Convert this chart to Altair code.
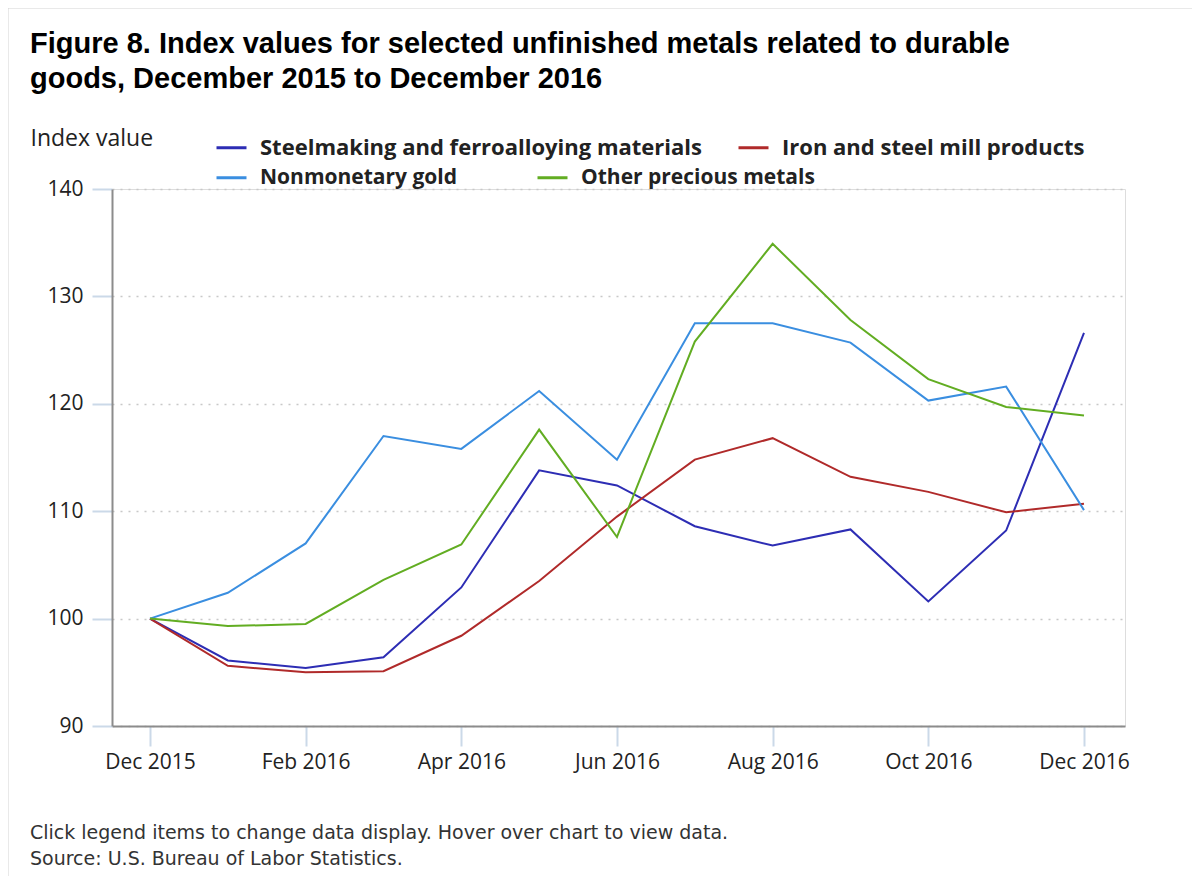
import altair as alt
import pandas as pd

months = ["Dec 2015", "Jan 2016", "Feb 2016", "Mar 2016", "Apr 2016", "May 2016",
          "Jun 2016", "Jul 2016", "Aug 2016", "Sep 2016", "Oct 2016", "Nov 2016", "Dec 2016"]
series_names = ["Steelmaking and ferroalloying materials", "Iron and steel mill products",
                "Nonmonetary gold", "Other precious metals"]
series_colors = ["#2d2db4", "#b02a2a", "#3a8ee0", "#62ad22"]
steelmaking = [100, 96.1, 95.4, 96.4, 102.9, 113.8, 112.4, 108.6, 106.8, 108.3, 101.6, 108.2, 126.6]
iron_steel = [100, 95.6, 95.0, 95.1, 98.4, 103.5, 109.5, 114.8, 116.8, 113.2, 111.8, 109.9, 110.7]
gold = [100, 102.4, 107.0, 117.0, 115.8, 121.2, 114.8, 127.5, 127.5, 125.7, 120.3, 121.6, 110.1]
other_precious = [100, 99.3, 99.5, 103.6, 106.9, 117.6, 107.6, 125.8, 134.9, 127.8, 122.3, 119.7, 118.9]
y_ticks = [90, 100, 110, 120, 130, 140]
x_tick_idx = [0, 2, 4, 6, 8, 10, 12]
title_lines = ["Figure 8. Index values for selected unfinished metals related to durable",
               "goods, December 2015 to December 2016"]
footnote_lines = ["Click legend items to change data display. Hover over chart to view data.",
                  "Source: U.S. Bureau of Labor Statistics."]

rows = []
for name, vals in zip(series_names, [steelmaking, iron_steel, gold, other_precious]):
    for i, v in enumerate(vals):
        rows.append({"series": name, "idx": i, "month": months[i], "value": v})
df = pd.DataFrame(rows)

label_expr = "[" + ",".join("'" + m + "'" for m in months) + "][datum.value]"

x_enc = alt.X("idx:Q",
              scale=alt.Scale(domain=[-0.488, 12.527], nice=False, zero=False),
              axis=alt.Axis(values=x_tick_idx, labelExpr=label_expr, title=None, grid=False,
                            domainColor="#8c8c8c", domainWidth=2,
                            tickColor="#cbd9e8", tickWidth=2, tickSize=20,
                            labelFont="Open Sans", labelFontSize=21, labelColor="#222222",
                            labelPadding=5, labelFlush=False))
y_enc = alt.Y("value:Q",
              scale=alt.Scale(domain=[90, 140], nice=False, zero=False),
              axis=alt.Axis(values=y_ticks, title="Index value", titleAngle=0,
                            titleX=-82, titleY=-44, titleAlign="left", titleBaseline="alphabetic",
                            titleFont="Open Sans", titleFontSize=23, titleFontWeight="normal",
                            titleColor="#222222",
                            grid=True, gridColor="#c8c8c8", gridDash=[2, 6], gridWidth=1.5,
                            domainColor="#8c8c8c", domainWidth=2,
                            tickColor="#cbd9e8", tickWidth=2, tickSize=20,
                            labelFont="Open Sans", labelFontSize=21, labelColor="#222222",
                            labelPadding=9))


def legend_for(y_off, col_pad, font_size):
    return alt.Legend(title=None, orient="none", legendX=103, legendY=y_off,
                      direction="horizontal", columnPadding=col_pad, padding=0,
                      symbolType="stroke", symbolSize=900, symbolStrokeWidth=3,
                      labelFont="Open Sans", labelFontSize=font_size,
                      labelFontWeight="bold", labelColor="#222222",
                      labelOffset=12, labelLimit=700)


top_pair = series_names[:2]
bottom_pair = series_names[2:]

lines_a = alt.Chart(df).transform_filter(
    alt.FieldOneOfPredicate(field="series", oneOf=top_pair)
).mark_line(strokeWidth=2).encode(
    x=x_enc, y=y_enc,
    color=alt.Color("series:N", scale=alt.Scale(domain=top_pair, range=series_colors[:2]),
                    legend=legend_for(-58, 30, 22)),
)
lines_b = alt.Chart(df).transform_filter(
    alt.FieldOneOfPredicate(field="series", oneOf=bottom_pair)
).mark_line(strokeWidth=2).encode(
    x=x_enc, y=y_enc,
    color=alt.Color("series:N", scale=alt.Scale(domain=bottom_pair, range=series_colors[2:]),
                    legend=legend_for(-28, 73, 21)),
)

aux = pd.DataFrame({"k": [0]})
footnote = alt.Chart(aux).mark_text(
    text=footnote_lines, align="left", baseline="alphabetic", font="DejaVu Sans",
    fontSize=19, lineHeight=26, color="#333333"
).encode(x=alt.value(-82), y=alt.value(650))

border_v = alt.Chart(aux).mark_rule(color="#d4d4d4", strokeWidth=3).encode(
    x=alt.value(-105), y=alt.value(-182), y2=alt.value(700))
border_h = alt.Chart(aux).mark_rule(color="#d4d4d4", strokeWidth=3).encode(
    x=alt.value(-105), x2=alt.value(1090), y=alt.value(-182))

chart = alt.layer(border_v, border_h, lines_a, lines_b, footnote).resolve_scale(
    color="independent"
).properties(
    width=1013, height=537,
    title=alt.Title(text=title_lines, anchor="start", frame="group", dx=-82,
                    font="Liberation Sans", fontSize=29, fontWeight="bold", color="#000000",
                    lineHeight=35, offset=-88),
    autosize=alt.AutoSizeParams(type="none"),
    padding={"left": 104, "top": 181, "right": 67, "bottom": 150},
).configure_view(stroke=None).configure(background="white")

chart.save("out.html", embed_options={"renderer": "svg", "actions": False})
